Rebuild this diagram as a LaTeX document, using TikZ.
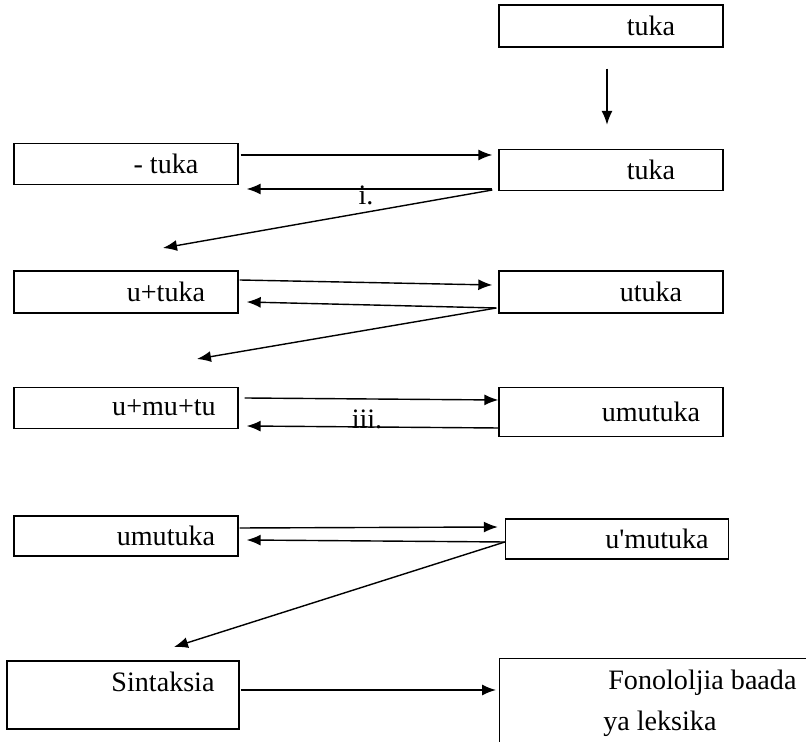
\documentclass[tikz,border=0pt]{standalone}
\usepackage{fontspec}
\setmainfont{Liberation Serif}
\newfontfamily\rawserif{Liberation Serif}
\usetikzlibrary{calc,arrows.meta}

\tikzset{
	stage box/.style={
		draw,
		line width=0.8pt,
		inner sep=0pt,
		minimum width=4.48cm,
		minimum height=0.82cm,
		font=\fontsize{16}{20}\selectfont
	},
	rule mark/.style={
		inner sep=0pt,
		font=\fontsize{16}{20}\selectfont
	},
	flow/.style={
		-{Latex[length=0.28cm,width=0.22cm]},
		line width=0.8pt
	}
}

\begin{document}
\begin{tikzpicture}[x=0.02cm, y=-0.02cm]

\useasboundingbox (0,0) rectangle (806,742);

% right column
\node[stage box, minimum height=0.84cm] (t0) at (611,26)  {\hspace*{1.6cm}tuka};
\node[stage box]                        (b1) at (611,170) {\hspace*{1.6cm}tuka};
\node[stage box, minimum height=0.84cm] (b2) at (611,292) {\hspace*{1.6cm}utuka};
\node[stage box, minimum height=0.98cm] (b3) at (611,412) {\hspace*{1.6cm}umutuka};
\node[stage box, minimum width=4.46cm, minimum height=0.8cm] (b4) at (617,539) {\hspace*{1.6cm}{\rawserif u'mutuka}};
\node[stage box, minimum width=6.4cm, minimum height=2.2cm, anchor=north west] (b5) at (499,658) {};
\node[rule mark, align=left, anchor=north west] (w5) at (603,670) {\hspace*{0.1cm}Fonololjia baada\\[0.12cm]ya leksika};

% left column
\node[stage box]                        (a1) at (126,164) {\hspace*{1.6cm}- tuka};
\node[stage box, minimum height=0.84cm] (a2) at (126,292) {\hspace*{1.6cm}u+tuka};
\node[stage box]                        (a3) at (126,408) {\hspace*{1.52cm}u+mu+tu};
\node[stage box, minimum height=0.8cm]  (a4) at (126,536) {\hspace*{1.6cm}umutuka};
\node[stage box, minimum width=4.64cm, minimum height=1.36cm,
      text height=0.4cm, text depth=0.52cm] (a5) at (123,695) {\hspace*{1.6cm}Sintaksia};

% rule labels
\node[rule mark] (r1) at (366,195) {i.};
\node[rule mark] (r3) at (367,419) {iii.};

% free ends
\coordinate (f1) at (163,248);
\coordinate (f2) at (197,359);
\coordinate (f3) at (174,647);

\draw[flow] ($(t0.south)+(-4,21)$) -- ($(b1.north)+(-4,-24)$);

\draw[flow] ($(a1.east)+(2,-9)$) -- ($(b1.west)+(-6,-15)$);
\draw[flow] ($(b1.west)+(-6,19)$) -- ($(a1.east)+(8,25)$);
\draw[flow] ($(b1.west)+(-6,20)$) -- (f1);

\draw[flow] ($(a2.east)+(1,-12)$) -- ($(b2.west)+(-6,-7)$);
\draw[flow] ($(b2.west)+(-2,16)$) -- ($(a2.east)+(8,10)$);
\draw[flow] ($(b2.west)+(-2,16)$) -- (f2);

\draw[flow] ($(a3.east)+(6,-10)$) -- ($(b3.west)+(0,-12)$);
\draw[flow] ($(b3.west)+(0,16)$) -- ($(a3.east)+(8,18)$);

\draw[flow] ($(a4.east)+(1,-8)$) -- ($(b4.west)+(-7,-12)$);
\draw[flow] ($(b4.west)+(0,3)$) -- ($(a4.east)+(8,4)$);
\draw[flow] ($(b4.west)+(0,3)$) -- (f3);

\draw[flow] ($(a5.east)+(1,-5)$) -- ($(b5.north west)+(-3,32)$);

\end{tikzpicture}
\end{document}
